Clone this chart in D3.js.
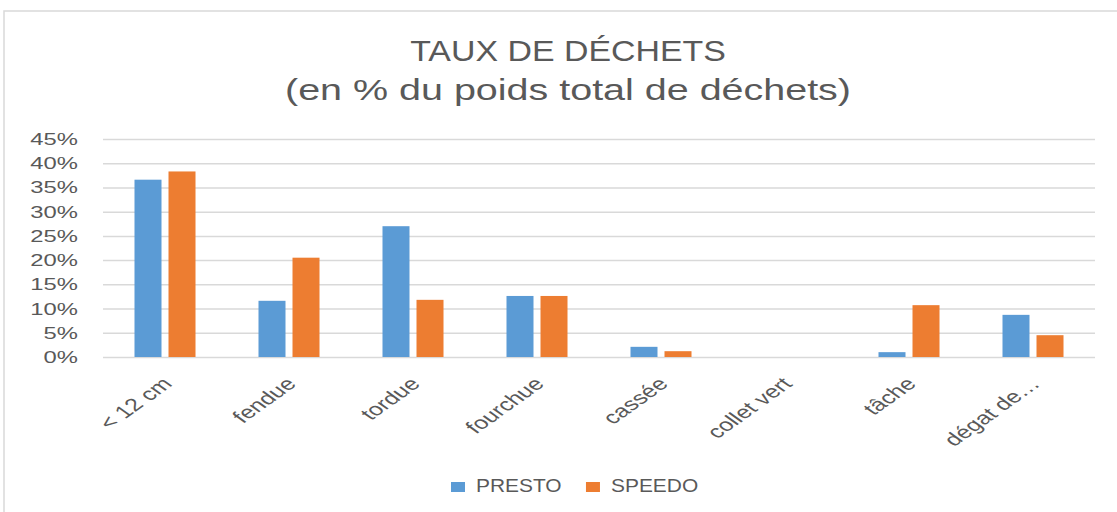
<!DOCTYPE html>
<meta charset="utf-8">
<head>
<style>
    body { margin: 0; background: #fff; }
    svg { display: block; }
    text { font-family: "Liberation Sans", Arial, sans-serif; fill: #595959; }
</style>
</head>
<body>
<div class="chart"></div>
<script src="https://d3js.org/d3.v7.min.js"></script>
<script>
var categories = ["< 12 cm", "fendue", "tordue", "fourchue", "cassée", "collet vert", "tâche", "dégat de…"];
var series = ["PRESTO", "SPEEDO"];
var presto = [0.366, 0.116, 0.270, 0.126, 0.021, 0, 0.010, 0.087];
var speedo = [0.383, 0.205, 0.118, 0.126, 0.012, 0, 0.107, 0.045];
var yTicks = [0, 0.05, 0.10, 0.15, 0.20, 0.25, 0.30, 0.35, 0.40, 0.45];
var colors = ["#5b9bd5", "#ed7d31"];
var titleLines = ["TAUX DE DÉCHETS", "(en % du poids total de déchets)"];

var width = 1117, height = 512;
// the picture is stretched sideways, so draw in a squeezed frame and widen it
var sx = 1.4;
var plotLeft = 103 / sx, plotRight = 1095 / sx, plotTop = 139, plotBottom = 357;

var svg = d3.select(".chart").append("svg")
    .attr("width", width)
    .attr("height", height);

svg.append("path")
    .attr("d", "M4," + height + "V11H" + width)
    .attr("fill", "none")
    .attr("stroke", "#d9d9d9")
    .attr("stroke-width", 1.5);

var g = svg.append("g").attr("transform", "scale(" + sx + ",1)");

var x0 = d3.scaleBand().domain(categories).range([plotLeft, plotRight])
    .paddingInner(0.508).paddingOuter(0.254);
var x1 = d3.scaleBand().domain(series).range([0, x0.bandwidth()]).paddingInner(0.206);
var y = d3.scaleLinear().domain([0, 0.45]).range([plotBottom, plotTop]);

var yAxis = g.append("g")
    .attr("transform", "translate(" + plotLeft + ",0)")
    .call(d3.axisLeft(y).tickValues(yTicks).tickFormat(d3.format(".0%"))
        .tickSize(-(plotRight - plotLeft)).tickPadding(18));
yAxis.select(".domain").remove();
yAxis.selectAll("line").attr("stroke", "#d9d9d9").attr("stroke-width", 1.5);
yAxis.selectAll("text").attr("fill", "#595959").style("font-size", "17px")
    .style("font-family", "'Liberation Sans', Arial, sans-serif");

var rows = categories.map(function (c, i) {
    return {cat: c, vals: [{s: series[0], v: presto[i]}, {s: series[1], v: speedo[i]}]};
});

var groups = g.selectAll(".grp").data(rows).enter().append("g")
    .attr("class", "grp")
    .attr("transform", function (d) { return "translate(" + x0(d.cat) + ",0)"; });

groups.selectAll("rect").data(function (d) { return d.vals; }).enter().append("rect")
    .attr("x", function (d) { return x1(d.s); })
    .attr("width", x1.bandwidth())
    .attr("y", function (d) { return y(d.v); })
    .attr("height", function (d) { return plotBottom - y(d.v); })
    .attr("fill", function (d, i) { return colors[i]; });

g.selectAll(".xlab").data(categories).enter().append("text")
    .attr("class", "xlab")
    .attr("text-anchor", "end")
    .style("font-size", "18px")
    .attr("transform", function (d) {
        return "translate(" + (x0(d) + x0.bandwidth() / 2 + 6) + "," + (plotBottom + 28) + ") rotate(-45)";
    })
    .text(function (d) { return d; });

// title
g.append("text")
    .attr("text-anchor", "middle")
    .style("font-size", "29px")
    .attr("transform", "translate(" + (568 / sx) + ",61) scale(0.835,1)")
    .text(titleLines[0]);
g.append("text")
    .attr("text-anchor", "middle")
    .style("font-size", "30px")
    .attr("transform", "translate(" + (568 / sx) + ",100) scale(0.94,1)")
    .text(titleLines[1]);

// legend
var legend = g.selectAll(".leg").data(series).enter().append("g")
    .attr("class", "leg")
    .attr("transform", function (d, i) { return "translate(" + (451 / sx + i * 96.4) + ",0)"; });
legend.append("rect")
    .attr("y", 482).attr("width", 10).attr("height", 10)
    .attr("fill", function (d, i) { return colors[i]; });
legend.append("text")
    .style("font-size", "18px")
    .attr("transform", "translate(17.9,492) scale(0.83,1)")
    .text(function (d) { return d; });
</script>
</body>
